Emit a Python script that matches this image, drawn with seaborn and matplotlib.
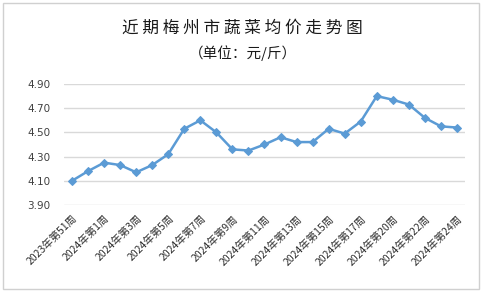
import matplotlib
matplotlib.use("Agg")
import matplotlib.pyplot as plt
import seaborn as sns
import pandas as pd
from matplotlib.patches import Rectangle

years = [2023, 2023] + [2024] * 23
weeks = [51, 52] + list(range(1, 18)) + [19, 20, 21, 22, 23, 24]
prices = [4.10, 4.18, 4.25, 4.23, 4.17, 4.23, 4.32, 4.53, 4.60, 4.50,
          4.36, 4.35, 4.40, 4.46, 4.42, 4.42, 4.53, 4.49, 4.59, 4.80,
          4.77, 4.73, 4.62, 4.55, 4.54]
labels = [f"{y}年第{w}周" for y, w in zip(years, weeks)]
title = "近期梅州市蔬菜均价走势图"
subtitle = "（单位：元/斤）"
yticks = [3.90, 4.10, 4.30, 4.50, 4.70, 4.90]

sns.set_theme(style="white")
plt.rcParams['font.family'] = ['Noto Sans CJK SC', 'DejaVu Sans']

df = pd.DataFrame({"label": labels, "price": prices})

fig = plt.figure(figsize=(4.85, 2.93), dpi=100)
fig.patch.set_facecolor("white")
ax = fig.add_axes([64 / 485, 88 / 293, 401 / 485, 121 / 293])

sns.lineplot(data=df, x="label", y="price", sort=False, ax=ax,
             color="#5B9BD5", linewidth=1.8, marker="D", markersize=4.3,
             markeredgecolor="#5B9BD5", zorder=3)

ax.set_xlim(-0.5, len(labels) - 0.5)
ax.set_ylim(3.90, 4.90)
ax.set_yticks(yticks)
ax.set_yticklabels([f"{v:.2f}" for v in yticks], fontsize=7.5, color="#404040",
                   family=['DejaVu Sans'])
ax.yaxis.grid(True, color="#D9D9D9", linewidth=1)
ax.xaxis.grid(False)
ax.set_xticks(range(len(labels)))
ax.set_xticklabels([l if i % 2 == 0 else "" for i, l in enumerate(labels)],
                   rotation=45, ha="right", rotation_mode="anchor",
                   fontsize=7.5, color="#303030")
ax.tick_params(axis="both", length=0, pad=6)
ax.tick_params(axis="y", pad=10)
for s in ax.spines.values():
    s.set_visible(False)
ax.set_xlabel("")
ax.set_ylabel("")

fig.text(0.5, 1 - 28 / 293, " ".join(title),
         ha="center", va="center", fontsize=12, color="#1a1a1a")
fig.text(0.5, 1 - 53 / 293, subtitle, ha="center", va="center",
         fontsize=10.5, color="#1a1a1a")

fig.patches.append(Rectangle((3 / 485, 4 / 293), 476 / 485, 286 / 293,
                             transform=fig.transFigure, fill=False,
                             edgecolor="#D0D0D0", linewidth=1))

fig.savefig("out.png", dpi=100)
